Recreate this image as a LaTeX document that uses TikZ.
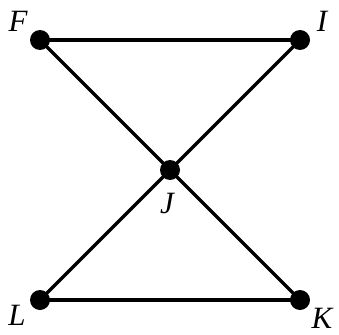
\documentclass[tikz,border=0pt]{standalone}
\usepackage{fontspec}
\setmainfont{Liberation Serif}
\begin{document}
\begin{tikzpicture}[x=1pt,y=-1pt,
  dot/.style={circle,fill=black,inner sep=0pt,minimum size=20pt},
  lbl/.style={font=\fontsize{31}{34}\selectfont\itshape,inner sep=0pt},
  edge/.style={line width=3.2pt}]
\useasboundingbox (0,0) rectangle (339,334);
\node[dot] (F) at (40,40) {};
\node[dot] (I) at (300,40) {};
\node[dot] (J) at (170,170) {};
\node[dot] (L) at (40,300) {};
\node[dot] (K) at (300,300) {};
\draw[edge] (F.center) -- (I.center);
\draw[edge] (L.center) -- (K.center);
\draw[edge] (F.center) -- (K.center);
\draw[edge] (I.center) -- (L.center);
\node[lbl] (tF) at (18,21) {F};
\node[lbl] (tI) at (322,21) {I};
\node[lbl] (tJ) at (167,203) {J};
\node[lbl] (tL) at (17,315) {L};
\node[lbl] (tK) at (322,318) {K};
\end{tikzpicture}
\end{document}
